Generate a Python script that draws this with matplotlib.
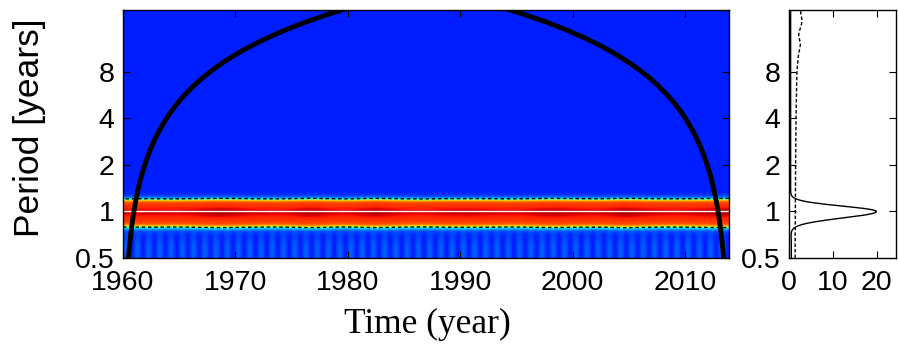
import numpy as np
import matplotlib
matplotlib.use("Agg")
import matplotlib.pyplot as plt

# yearly strength of the annual band (power units)
years = np.arange(1960, 2014)
band_amp = [18, 18.5, 19, 18.5, 18, 18.5, 19.5, 21, 22, 21.5,
            20, 19, 18.5, 18, 18.5, 20, 22, 21, 19, 18,
            18.5, 20.5, 22, 20.5, 19, 18, 17.5, 18, 19, 19.5,
            20, 19.5, 19, 18.5, 18, 18.5, 19.5, 21, 21.5, 20.5,
            19.5, 19, 19, 20.5, 22.5, 21.5, 20, 19, 18.5, 18.5,
            19, 20, 21, 21.5]
band_period = 1.0
band_sigma_up = 0.115     # octaves, towards longer periods
band_sigma_low = 0.14     # octaves, towards shorter periods
background = 0.37
low_stripe = 0.17

# significance level of the global spectrum
sig_periods = [0.5, 0.7, 1, 2, 4, 8, 10, 12, 14, 17, 20]
sig_level = [1.4, 1.4, 1.45, 1.5, 1.6, 1.8, 2.1, 2.6, 2.2, 3.0, 2.6]

t_start, t_end = 1960.0, 1960 + 647 / 12
coi_factor = 1.033

# colour ramp: log2(power) -> position on the jet colormap
ramp_log2p = [-2.0, -1.43, -0.5, 0.04, 0.72, 1.05, 1.39, 2.25, 3.9, 4.15, 4.5]
ramp_pos = [0.10, 0.155, 0.22, 0.30, 0.45, 0.62, 0.75, 0.83, 0.87, 0.905, 0.96]

yticks = [0.5, 1, 2, 4, 8]
ytick_labels = ["0.5", "1", "2", "4", "8"]
xticks = [1960, 1970, 1980, 1990, 2000, 2010]
gws_ticks = [0, 10, 20]

# ---- wavelet power field -------------------------------------------------
t = np.linspace(t_start, t_end, 648)
periods = 2 ** np.linspace(-1, 4.33, 320)
TT, PP = np.meshgrid(t, periods)
x = np.log2(PP / band_period)
amp = np.interp(t, years + 0.5, band_amp)[None, :]
sig = np.where(x >= 0, band_sigma_up, band_sigma_low)
power = amp * np.exp(-x ** 2 / (2 * sig ** 2)) + background
w = np.clip((0.8 - PP) / 0.2, 0, 1)
power += w * low_stripe * (1 + np.cos(2 * np.pi * (TT - 0.3)))

colour = np.interp(np.log2(power), ramp_log2p, ramp_pos)
sig_field = np.interp(np.log2(PP), np.log2(sig_periods), sig_level)
global_ws = power.mean(axis=1)
coi = coi_factor * np.minimum(t - t_start, t_end - t)

# ---- figure --------------------------------------------------------------
fig = plt.figure(figsize=(8.98, 3.47), dpi=100)
ax = fig.add_axes([123 / 898, 89 / 347, 606 / 898, 248 / 347])
ax2 = fig.add_axes([789 / 898, 89 / 347, 107 / 898, 248 / 347])

ax.pcolormesh(t, periods, colour, cmap="jet", vmin=0, vmax=1,
              shading="gouraud", rasterized=True)
ax.contour(t, periods, power / sig_field, levels=[1.0], colors="k",
           linewidths=1.0, linestyles=[(0, (2.5, 2))])
ax.axhline(band_period, color="white", lw=1.0)
ax.plot(t, coi, color="k", lw=3.5)
ax.set_yscale("log")
ax.set_ylim(0.5, 2 ** 4.33)
ax.set_xlim(t_start, t_end)

ax2.plot(global_ws, periods, color="k", lw=1.0)
ax2.plot(sig_level, sig_periods, color="k", lw=1.0, ls=(0, (2.5, 1.5)))
ax2.set_yscale("log")
ax2.set_ylim(0.5, 2 ** 4.33)
ax2.set_xlim(0, 24.4)
ax2.set_xticks(gws_ticks)
ax2.set_xticklabels([str(v) for v in gws_ticks])

for a in (ax, ax2):
    a.set_yticks(yticks)
    a.set_yticklabels(ytick_labels)
    a.yaxis.set_minor_locator(matplotlib.ticker.NullLocator())
    a.tick_params(direction="in", top=True, right=True, length=5, width=0.8,
                  labelsize=20.5)
    a.tick_params(axis="x", pad=8.5)
    a.tick_params(axis="y", pad=6)
    for lab in a.get_xticklabels() + a.get_yticklabels():
        lab.set_family(["Liberation Sans", "DejaVu Sans"])
    for s in a.spines.values():
        s.set_linewidth(1.0)
ax.set_xticks(xticks)

fig.text(29 / 898, 1 - 128 / 347, "Period [years]", rotation=90,
         ha="center", va="center", fontsize=25.5,
         family=["Liberation Sans", "DejaVu Sans"])
fig.text(427 / 898, 14 / 347, "Time (year)", ha="center", va="baseline",
         fontsize=25.5, family=["Liberation Serif", "DejaVu Serif"])

fig.savefig("out.png", dpi=100)
